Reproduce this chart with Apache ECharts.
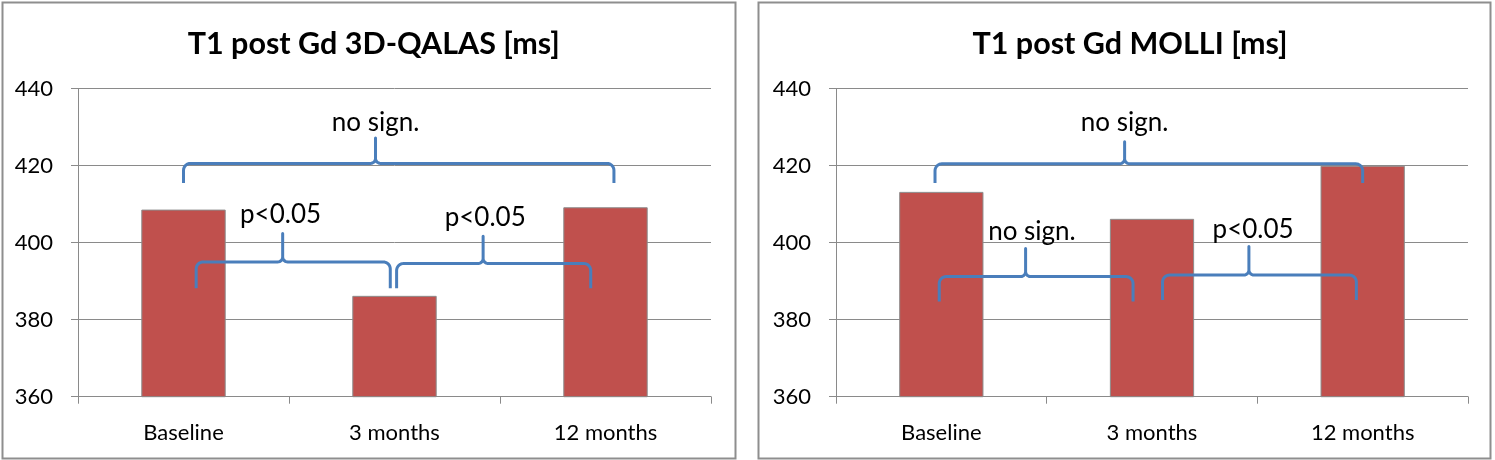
<!DOCTYPE html>
<html>
<head>
<meta charset="utf-8">
<script src="https://cdn.jsdelivr.net/npm/echarts@6/dist/echarts.min.js"></script>
<style>
html,body{margin:0;padding:0;background:#fff;}
#chart{width:1495px;height:460px;}
</style>
</head>
<body>
<div id="chart"></div>
<script>
// ---- data ----
const categories = ['Baseline', '3 months', '12 months'];
const qalasTitle = 'T1 post Gd 3D-QALAS [ms]';
const molliTitle = 'T1 post Gd MOLLI [ms]';
const qalasValues = [408.6, 386.2, 409.2];
const molliValues = [413.2, 406.2, 420.0];
const yMin = 360, yMax = 440, yStep = 20;
// braces: [xStart, xEnd, xCusp, yEnd, yLine, yTip] (x in category-index units)
const qalasBraces = [
  [0.00, 2.04, 0.91, 415.5, 420.6, 427.2],
  [0.06, 0.98, 0.47, 388.2, 395.0, 402.4],
  [1.01, 1.93, 1.42, 388.2, 394.6, 401.7]
];
const qalasBraceLabels = [
  ['no sign.', 0.91, 431.1],
  ['p<0.05', 0.46, 407.2],
  ['p<0.05', 1.43, 406.4]
];
const molliBraces = [
  [-0.03, 2.00, 0.87, 415.5, 420.5, 426.2],
  [-0.01, 0.91, 0.40, 384.7, 391.2, 398.5],
  [1.05, 1.97, 1.46, 385.1, 391.6, 399.0]
];
const molliBraceLabels = [
  ['no sign.', 0.87, 431.1],
  ['no sign.', 0.43, 403.0],
  ['p<0.05', 1.48, 403.3]
];

// ---- styles ----
const FONT = 'Lato, "Open Sans", sans-serif';
const GRID_COLOR = '#8a8a8a';
const BAR_COLOR = '#C0504D';
const BRACE_COLOR = '#4A7EBB';

function bracePoints(p1, p2, pc, yEnd, yLine, yTip) {
  const r = 7, r2 = 5, pts = [];
  const arc = (cx, cy, rad, a0, a1) => {
    const n = 8;
    for (let i = 0; i <= n; i++) {
      const a = a0 + (a1 - a0) * i / n;
      pts.push([cx + rad * Math.cos(a), cy + rad * Math.sin(a)]);
    }
  };
  const x1 = p1, x2 = p2, xc = pc;
  pts.push([x1, yEnd]);
  arc(x1 + r, yLine + r, r, Math.PI, 1.5 * Math.PI);
  arc(xc - r2, yLine - r2, r2, 0.5 * Math.PI, 0);
  pts.push([xc, yTip]);
  arc(xc + r2, yLine - r2, r2, Math.PI, 0.5 * Math.PI);
  arc(x2 - r, yLine + r, r, 1.5 * Math.PI, 2 * Math.PI);
  pts.push([x2, yEnd]);
  return pts;
}

function braceSeries(data, xIdx, yIdx) {
  return {
    type: 'custom',
    xAxisIndex: xIdx, yAxisIndex: yIdx,
    data: data,
    encode: { x: [0, 1, 2], y: [3, 4, 5] },
    clip: false, silent: true, z: 5,
    renderItem: function (params, api) {
      const a = api.coord([api.value(0), api.value(3)]);
      const b = api.coord([api.value(1), api.value(3)]);
      const c = api.coord([api.value(2), api.value(4)]);
      const t = api.coord([api.value(2), api.value(5)]);
      const pts = bracePoints(a[0], b[0], c[0], a[1], c[1], t[1]);
      return {
        type: 'polyline',
        shape: { points: pts },
        style: { stroke: BRACE_COLOR, lineWidth: 3, fill: null, lineJoin: 'round' }
      };
    }
  };
}

function labelSeries(labels, xIdx, yIdx) {
  return {
    type: 'custom',
    xAxisIndex: xIdx, yAxisIndex: yIdx,
    data: labels.map(l => [l[1], l[2]]),
    encode: { x: 0, y: 1 },
    clip: false, silent: true, z: 6,
    renderItem: function (params, api) {
      const p = api.coord([api.value(0), api.value(1)]);
      return {
        type: 'text',
        x: p[0], y: p[1],
        style: {
          text: labels[params.dataIndex][0],
          fill: '#000', font: '26px ' + FONT,
          textAlign: 'center', textVerticalAlign: 'middle'
        }
      };
    }
  };
}

function catAxis(gi) {
  return {
    type: 'category', gridIndex: gi, data: categories,
    axisLine: { show: true, onZero: false, lineStyle: { color: GRID_COLOR, width: 1 } },
    axisTick: { show: true, length: 7, alignWithLabel: false, lineStyle: { color: GRID_COLOR } },
    axisLabel: { color: '#000', fontSize: 22, fontFamily: FONT, margin: 25 },
    splitLine: { show: false }
  };
}
function idxAxis(gi) {
  return { type: 'value', gridIndex: gi, min: -0.5, max: 2.5, show: false };
}
function valAxis(gi) {
  return {
    type: 'value', gridIndex: gi, min: yMin, max: yMax, interval: yStep,
    axisLine: { show: true, onZero: false, lineStyle: { color: GRID_COLOR, width: 1 } },
    axisTick: { show: true, length: 7, lineStyle: { color: GRID_COLOR } },
    axisLabel: { color: '#000', fontSize: 22, fontFamily: FONT, margin: 25 },
    splitLine: { show: true, lineStyle: { color: GRID_COLOR, width: 1 } }
  };
}
function barSeries(values, xIdx, yIdx) {
  return {
    type: 'bar', xAxisIndex: xIdx, yAxisIndex: yIdx, data: values,
    barCategoryGap: '60%',
    itemStyle: { color: BAR_COLOR, borderColor: '#8c8c8c', borderWidth: 1 },
    z: 3
  };
}

const chart = echarts.init(document.getElementById('chart'), null, { renderer: 'canvas' });
chart.setOption({
  animation: false,
  backgroundColor: '#fff',
  grid: [
    { left: 78, right: 784, top: 88.7, bottom: 63.3 },
    { left: 836, right: 27, top: 88.7, bottom: 63.3 }
  ],
  xAxis: [catAxis(0), idxAxis(0), catAxis(1), idxAxis(1)],
  yAxis: [valAxis(0), valAxis(1)],
  graphic: [
    { type: 'rect', shape: { x: 2.5, y: 2.5, width: 733, height: 456 }, style: { fill: null, stroke: '#8e8e8e', lineWidth: 2 }, silent: true },
    { type: 'rect', shape: { x: 758.5, y: 2.5, width: 732, height: 456 }, style: { fill: null, stroke: '#8e8e8e', lineWidth: 2 }, silent: true },
    { type: 'text', x: 373.7, y: 44.5, style: { text: qalasTitle, font: 'bold 30.5px ' + FONT, fill: '#000', textAlign: 'center', textVerticalAlign: 'middle' }, silent: true },
    { type: 'text', x: 1130, y: 44.5, style: { text: molliTitle, font: 'bold 30.5px ' + FONT, fill: '#000', textAlign: 'center', textVerticalAlign: 'middle' }, silent: true }
  ],
  series: [
    barSeries(qalasValues, 0, 0),
    barSeries(molliValues, 2, 1),
    braceSeries(qalasBraces, 1, 0),
    braceSeries(molliBraces, 3, 1),
    labelSeries(qalasBraceLabels, 1, 0),
    labelSeries(molliBraceLabels, 3, 1)
  ]
});
</script>
</body>
</html>
